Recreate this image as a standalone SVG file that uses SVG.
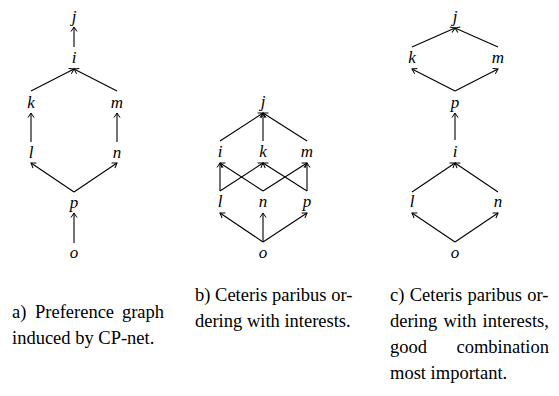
<svg xmlns="http://www.w3.org/2000/svg" width="559" height="396" viewBox="0 0 559 396">
<defs>
<marker id="ah" viewBox="-6 -4 7 8" markerWidth="7" markerHeight="8" refX="0" refY="0" orient="auto" markerUnits="userSpaceOnUse">
<path d="M -4.5 -3 L 0 0 L -4.5 3" fill="none" stroke="#000" stroke-width="1"/>
</marker>
</defs>
<style>
.n{font-family:"Liberation Serif","Times New Roman",serif;font-style:italic;font-size:17px;text-anchor:middle;fill:#000}
.c{font-family:"Liberation Serif","Times New Roman",serif;font-size:18.5px;fill:#000}
.e line{stroke:#000;stroke-width:1.1;marker-end:url(#ah)}
</style>
<rect width="559" height="396" fill="#fff"/>
<!-- panel a -->
<g id="a-j"><text class="n" x="74" y="22">j</text></g>
<g id="a-i"><text class="n" x="74" y="63">i</text></g>
<g id="a-k"><text class="n" x="31" y="108">k</text></g>
<g id="a-m"><text class="n" x="117" y="108">m</text></g>
<g id="a-l"><text class="n" x="31" y="158">l</text></g>
<g id="a-n"><text class="n" x="117" y="158">n</text></g>
<g id="a-p"><text class="n" x="74" y="208">p</text></g>
<g id="a-o"><text class="n" x="74" y="258">o</text></g>
<!-- panel b -->
<g id="b-j"><text class="n" x="263" y="107">j</text></g>
<g id="b-i"><text class="n" x="220" y="157">i</text></g>
<g id="b-k"><text class="n" x="263" y="157">k</text></g>
<g id="b-m"><text class="n" x="307" y="157">m</text></g>
<g id="b-l"><text class="n" x="220" y="207">l</text></g>
<g id="b-n"><text class="n" x="263" y="207">n</text></g>
<g id="b-p"><text class="n" x="307" y="207">p</text></g>
<g id="b-o"><text class="n" x="263" y="258">o</text></g>
<!-- panel c -->
<g id="c-j"><text class="n" x="455" y="22">j</text></g>
<g id="c-k"><text class="n" x="412" y="63">k</text></g>
<g id="c-m"><text class="n" x="498" y="63">m</text></g>
<g id="c-p"><text class="n" x="455" y="108">p</text></g>
<g id="c-i"><text class="n" x="455" y="157">i</text></g>
<g id="c-l"><text class="n" x="412" y="207">l</text></g>
<g id="c-n"><text class="n" x="498" y="207">n</text></g>
<g id="c-o"><text class="n" x="455" y="258">o</text></g>
<!-- connectors -->
<g id="connectors" class="e">
<line x1="74" y1="243" x2="74" y2="213"/>
<line x1="74" y1="192" x2="31" y2="163"/>
<line x1="74" y1="192" x2="117" y2="163"/>
<line x1="31" y1="142" x2="31" y2="113"/>
<line x1="117" y1="142" x2="117" y2="113"/>
<line x1="31" y1="91" x2="74" y2="69"/>
<line x1="117" y1="91" x2="74" y2="69"/>
<line x1="74" y1="47" x2="74" y2="27"/>

<line x1="220" y1="141" x2="263" y2="113"/>
<line x1="263" y1="141" x2="263" y2="113"/>
<line x1="307" y1="141" x2="263" y2="113"/>
<line x1="220" y1="191" x2="220" y2="163"/>
<line x1="220" y1="191" x2="263" y2="163"/>
<line x1="263" y1="191" x2="220" y2="163"/>
<line x1="263" y1="191" x2="307" y2="163"/>
<line x1="307" y1="191" x2="263" y2="163"/>
<line x1="307" y1="191" x2="307" y2="163"/>
<line x1="263" y1="242" x2="220" y2="213"/>
<line x1="263" y1="242" x2="263" y2="213"/>
<line x1="263" y1="242" x2="307" y2="213"/>

<line x1="412" y1="47" x2="455" y2="28"/>
<line x1="498" y1="47" x2="455" y2="28"/>
<line x1="455" y1="91" x2="412" y2="69"/>
<line x1="455" y1="91" x2="498" y2="69"/>
<line x1="455" y1="140" x2="455" y2="113"/>
<line x1="412" y1="192" x2="455" y2="163"/>
<line x1="498" y1="192" x2="455" y2="163"/>
<line x1="455" y1="242" x2="412" y2="213"/>
<line x1="455" y1="242" x2="498" y2="213"/>
</g>
<!-- captions -->
<g id="caption-a" class="c">
<text x="12" y="318">a)</text>
<text x="35" y="318">Preference</text>
<text x="164" y="318" text-anchor="end">graph</text>
<text x="12" y="344">induced by CP-net.</text>
</g>
<g id="caption-b" class="c">
<text x="195" y="301">b) Ceteris paribus or-</text>
<text x="195" y="327">dering with interests.</text>
</g>
<g id="caption-c" class="c">
<text x="390" y="301" word-spacing="0.7">c) Ceteris paribus or-</text>
<text x="390" y="327" word-spacing="1.6">dering with interests,</text>
<text x="390" y="353">good</text>
<text x="549" y="353" text-anchor="end">combination</text>
<text x="390" y="379">most important.</text>
</g>
</svg>
